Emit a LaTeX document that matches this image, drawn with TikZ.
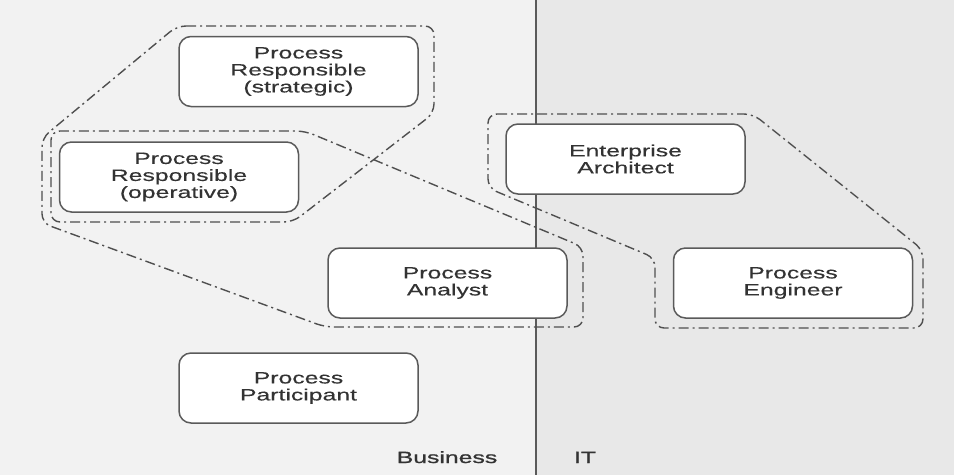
\documentclass[tikz,border=0pt]{standalone}
\usepackage{fontspec}
\newfontfamily\diafont[FakeStretch=1.52,FakeBold=0.3]{Liberation Sans}
\newfontfamily\lanefont[FakeStretch=1.52,FakeBold=1.2]{Liberation Sans}
\definecolor{bgleft}{HTML}{F2F2F2}
\definecolor{bgright}{HTML}{E8E8E8}
\definecolor{boxline}{HTML}{5A5A5A}
\definecolor{txt}{HTML}{333333}
\definecolor{hull}{HTML}{4F4F4F}
\begin{document}
\begin{tikzpicture}[x=1pt,y=-1pt,
  rolebox/.style={draw=boxline, line width=1.5pt, fill=white, rounded corners=12pt,
    minimum width=239pt, minimum height=70pt, align=center, inner sep=0pt,
    text=txt, font=\diafont\fontsize{16.3}{17}\selectfont},
  hullline/.style={draw=hull, line width=1.4pt, rounded corners=9pt,
    dash pattern=on 10pt off 4pt on 2pt off 4pt},
  lanelabel/.style={text=txt, font=\lanefont\fontsize{16.3}{17}\selectfont, anchor=base}]
\useasboundingbox (0,0) rectangle (954,475);
\fill[bgleft] (0,0) rectangle (536,475);
\fill[bgright] (536,0) rectangle (954,475);
\coordinate (divtop) at (536,0);
\coordinate (divbot) at (536,475);
\draw[boxline, line width=2pt] (divtop) -- (divbot);

% hulls
\draw[hullline] (177,26) -- (434,26) -- (434,113) -- (293,222) -- (51,222) -- (51,131)
  -- (305,131) -- (583,247) -- (583,327) -- (325,327) -- (42,223) -- (42,138) -- cycle;
\draw[hullline] (488,114) -- (753,114) -- (923,250) -- (923,328) -- (655,328)
  -- (655,258) -- (488,188) -- cycle;

% roles
\node[rolebox] (strat) at (298.5,71.5) {Process\\Responsible\\(strategic)};
\node[rolebox] (oper) at (179,177) {Process\\Responsible\\(operative)};
\node[rolebox] (ea) at (625.5,159) {Enterprise\\Architect};
\node[rolebox] (pe) at (793,283) {Process\\Engineer};
\node[rolebox] (pa) at (447.5,283) {Process\\Analyst};
\node[rolebox] (pp) at (298.5,388) {Process\\Participant};

\node[lanelabel] (business) at (447,463) {Business};
\node[lanelabel] (it) at (585,463) {IT};
\end{tikzpicture}
\end{document}
